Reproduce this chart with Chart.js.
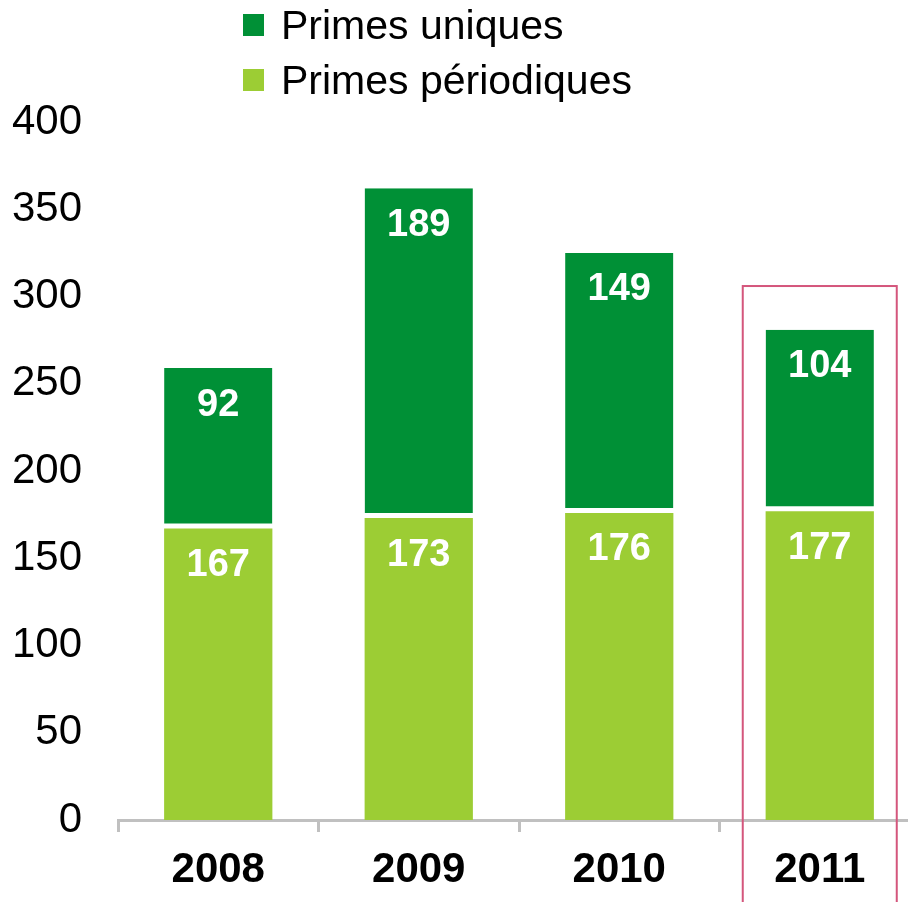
<!DOCTYPE html>
<html>
<head>
<meta charset="utf-8">
<script src="https://cdn.jsdelivr.net/npm/chart.js@4/dist/chart.umd.min.js"></script>
<style>
  html, body { margin: 0; padding: 0; background: #fff; overflow: hidden; }
  canvas { display: block; }
</style>
</head>
<body>
<canvas id="c" width="920" height="902"></canvas>
<script>
// data
var years = ['2008', '2009', '2010', '2011'];
var primesPeriodiques = [167, 173, 176, 177];
var primesUniques = [92, 189, 149, 104];
var yTicks = [0, 50, 100, 150, 200, 250, 300, 350, 400];
var highlightYear = '2011';

var darkGreen = '#009036';
var lightGreen = '#9ccd34';

// white value labels near the top of each segment
var valueLabels = {
  id: 'valueLabels',
  afterDatasetsDraw: function(chart) {
    var ctx = chart.ctx;
    ctx.save();
    ctx.fillStyle = '#fff';
    ctx.font = 'bold 38px Arial, "Liberation Sans", sans-serif';
    ctx.textAlign = 'center';
    ctx.textBaseline = 'middle';
    chart.data.datasets.forEach(function(ds, i) {
      var meta = chart.getDatasetMeta(i);
      meta.data.forEach(function(el, j) {
        ctx.fillText(ds.data[j], el.x, el.y + 37);
      });
    });
    ctx.restore();
  }
};

// stacked legend at the top, dark one first
var topLegend = {
  id: 'topLegend',
  afterDraw: function(chart) {
    var ctx = chart.ctx;
    var items = chart.data.datasets.slice().reverse();
    ctx.save();
    ctx.font = '41px Arial, "Liberation Sans", sans-serif';
    ctx.textBaseline = 'middle';
    ctx.textAlign = 'left';
    items.forEach(function(ds, i) {
      var cy = 25 + i * 55;
      ctx.fillStyle = ds.backgroundColor;
      ctx.fillRect(243, cy - 11, 21, 22);
      ctx.fillStyle = '#000';
      ctx.fillText(ds.label, 281, cy + 3);
    });
    ctx.restore();
  }
};

// pink frame round the last year
var highlight = {
  id: 'highlight',
  afterDraw: function(chart) {
    var x = chart.scales.x, y = chart.scales.y;
    var cx = x.getPixelForValue(years.indexOf(highlightYear));
    var top = y.getPixelForValue(306);
    var ctx = chart.ctx;
    ctx.save();
    ctx.strokeStyle = '#d4567c';
    ctx.lineWidth = 2;
    ctx.strokeRect(cx - 77, top, 154, chart.height - top + 10);
    ctx.restore();
  }
};

new Chart(document.getElementById('c'), {
  type: 'bar',
  data: {
    labels: years,
    datasets: [
      {
        label: 'Primes périodiques',
        data: primesPeriodiques,
        backgroundColor: lightGreen,
        borderWidth: 0
      },
      {
        label: 'Primes uniques',
        data: primesUniques,
        backgroundColor: darkGreen,
        borderColor: '#fff',
        borderWidth: { top: 0, left: 0, right: 0, bottom: 5 },
        borderSkipped: false
      }
    ]
  },
  options: {
    responsive: false,
    animation: false,
    events: [],
    layout: { padding: { top: 122, right: 0, bottom: 0, left: 0 } },
    datasets: { bar: { barPercentage: 0.54, categoryPercentage: 1 } },
    plugins: {
      legend: { display: false },
      tooltip: { enabled: false }
    },
    scales: {
      x: {
        stacked: true,
        grid: {
          display: true,
          drawOnChartArea: false,
          drawTicks: true,
          tickLength: 12,
          color: '#c0c0c0',
          lineWidth: 3,
          offset: true
        },
        border: { display: true, color: '#c0c0c0', width: 3 },
        ticks: {
          color: '#000',
          padding: 13,
          font: { family: 'Arial, "Liberation Sans", sans-serif', size: 42, weight: 'bold' }
        },
        afterFit: function(s) { s.height = 82; }
      },
      y: {
        stacked: true,
        min: 0,
        max: 400,
        afterBuildTicks: function(s) {
          s.ticks = yTicks.map(function(v) { return { value: v }; });
        },
        grid: { display: false, drawTicks: false },
        border: { display: false },
        ticks: {
          color: '#000',
          padding: 36,
          font: { family: 'Arial, "Liberation Sans", sans-serif', size: 42 }
        },
        afterFit: function(s) { s.width = 118; }
      }
    }
  },
  plugins: [valueLabels, topLegend, highlight]
});
</script>
</body>
</html>
